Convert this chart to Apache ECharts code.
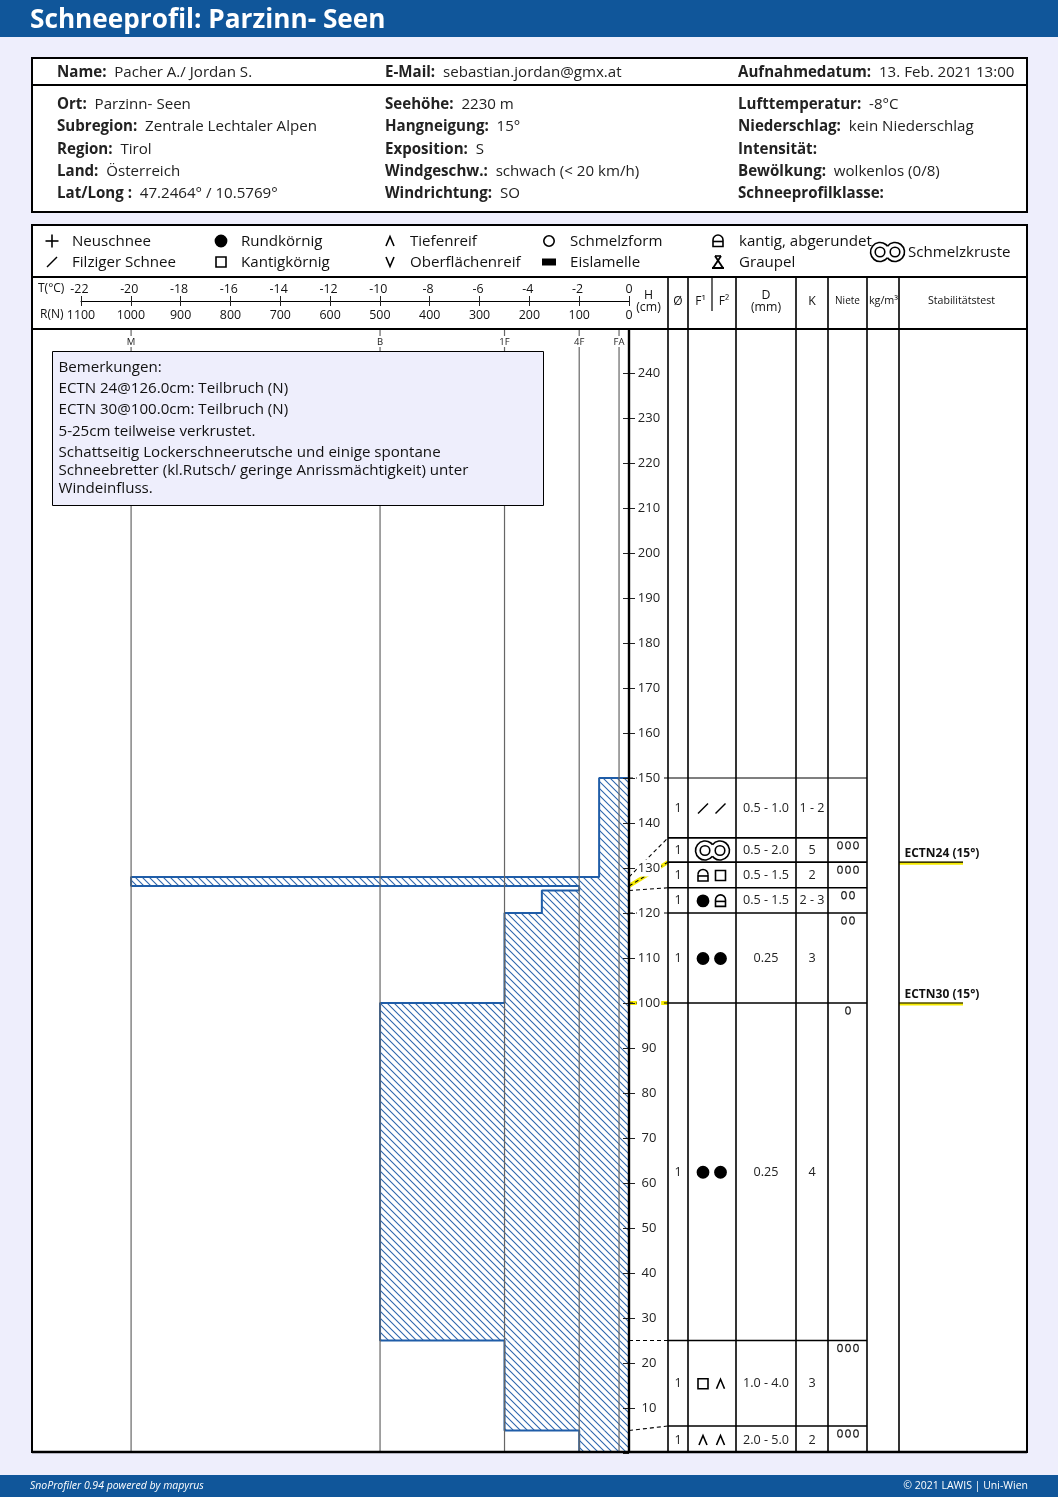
<!DOCTYPE html>
<html>
<head>
<meta charset="utf-8">
<title>Schneeprofil</title>
<script src="https://cdn.jsdelivr.net/npm/echarts@6/dist/echarts.min.js"></script>
<style>
  html, body { margin: 0; padding: 0; background: #eeeefc; }
  #chart { width: 1058px; height: 1497px; }
</style>
</head>
<body>
<div id="chart"></div>
<script>
// snow layers, top to bottom
const layerTop = [150, 128, 126, 125, 120, 100, 25, 5];
const layerBottom = [128, 126, 125, 120, 100, 25, 5, 0];
const layerResistance = [60, 1000, 100, 175, 250, 500, 250, 100];
// table rows are stretched where layers are thin, so rows get their own heights on the cm scale
const rowTop = [150, 136.7, 131.3, 125.6, 120, 100, 25, 6];
const rowBottom = [136.7, 131.3, 125.6, 120, 100, 25, 6, 0];
const rowMoisture = ['1', '1', '1', '1', '1', '1', '1', '1'];
const rowGrain1 = ['slash', 'crust', 'rounded', 'round', 'round', 'round', 'square', 'caret'];
const rowGrain2 = ['slash', '', 'square', 'rounded', 'round', 'round', 'caret', 'caret'];
const rowSize = ['0.5 - 1.0', '0.5 - 2.0', '0.5 - 1.5', '0.5 - 1.5', '0.25', '0.25', '1.0 - 4.0', '2.0 - 5.0'];
const rowHardness = ['1 - 2', '5', '2', '2 - 3', '3', '4', '3', '2'];
const rowRivets = [0, 3, 3, 2, 2, 1, 3, 3];
// hand hardness reference lines
const hardnessValues = [1000, 500, 250, 100, 20];
const hardnessCodes = ['M', 'B', '1F', '4F', 'FA'];
// stability tests
const testRows = [2, 5];
const testLabels = ['ECTN24 (15°)', 'ECTN30 (15°)'];
// texts
const infoHead = [['Name:', 'Pacher A./ Jordan S.'], ['E-Mail:', 'sebastian.jordan@gmx.at'], ['Aufnahmedatum:', '13. Feb. 2021 13:00']];
const infoCol1 = [['Ort:', 'Parzinn- Seen'], ['Subregion:', 'Zentrale Lechtaler Alpen'], ['Region:', 'Tirol'], ['Land:', 'Österreich'], ['Lat/Long :', '47.2464° / 10.5769°']];
const infoCol2 = [['Seehöhe:', '2230 m'], ['Hangneigung:', '15°'], ['Exposition:', 'S'], ['Windgeschw.:', 'schwach (< 20 km/h)'], ['Windrichtung:', 'SO']];
const infoCol3 = [['Lufttemperatur:', '-8°C'], ['Niederschlag:', 'kein Niederschlag'], ['Intensität:', ''], ['Bewölkung:', 'wolkenlos (0/8)'], ['Schneeprofilklasse:', '']];
const remarks = ['Bemerkungen:', 'ECTN 24@126.0cm: Teilbruch (N)', 'ECTN 30@100.0cm: Teilbruch (N)', '5-25cm teilweise verkrustet.', 'Schattseitig Lockerschneerutsche und einige spontane', 'Schneebretter (kl.Rutsch/ geringe Anrissmächtigkeit) unter', 'Windeinfluss.'];
const remarkY = [367, 388, 409, 431, 452, 470, 488];

const FONT = '"Open Sans", "Noto Sans", sans-serif';
const BLUE = '#10569a';
const BG = '#eeeefc';
const HATCH = '#2e66ad';

function hatchTile() {
  const c = document.createElement('canvas');
  c.width = 7; c.height = 7;
  const g = c.getContext('2d');
  g.strokeStyle = HATCH;
  g.lineWidth = 1.1;
  g.beginPath();
  g.moveTo(-1, -1); g.lineTo(8, 8);
  g.moveTo(-8, -1); g.lineTo(1, 8);
  g.moveTo(6, -1); g.lineTo(15, 8);
  g.stroke();
  return c;
}
const hatchFill = { image: hatchTile(), repeat: 'repeat' };

function txt(x, y, text, size, o) {
  o = o || {};
  return {
    type: 'text', z: o.z || 40, silent: true,
    style: {
      x: x, y: y + 0.8, text: text, fill: o.fill || '#111',
      font: (o.style || 'normal') + ' ' + (o.weight || 'normal') + ' ' + size + 'px ' + FONT,
      textAlign: o.align || 'left', textVerticalAlign: 'middle'
    }
  };
}
function seg(x1, y1, x2, y2, w, o) {
  o = o || {};
  return {
    type: 'line', z: o.z || 20, silent: true,
    shape: { x1: x1, y1: y1, x2: x2, y2: y2 },
    style: { stroke: o.color || '#000', lineWidth: w, lineDash: o.dash || null }
  };
}
function box(x, y, w, h, o) {
  o = o || {};
  return {
    type: 'rect', z: o.z === undefined ? -1 : o.z, silent: true,
    shape: { x: x, y: y, width: w, height: h },
    style: { fill: o.fill || '#fff', stroke: o.stroke || null, lineWidth: o.lw || 0 }
  };
}

// one snow grain symbol around a centre point
function grain(name, cx, cy, z) {
  const st = { stroke: '#000', lineWidth: 1.6, fill: null };
  const base = { z: z, silent: true };
  const L = (x1, y1, x2, y2, lw) => Object.assign({ type: 'line', shape: { x1: cx + x1, y1: cy + y1, x2: cx + x2, y2: cy + y2 }, style: Object.assign({}, st, lw ? { lineWidth: lw } : {}) }, base);
  const P = pts => Object.assign({ type: 'polyline', shape: { points: pts.map(p => [cx + p[0], cy + p[1]]) }, style: st }, base);
  const A = (x, r, a, b) => Object.assign({ type: 'arc', shape: { cx: cx + x, cy: cy, r: r, startAngle: a, endAngle: b, clockwise: true }, style: st }, base);
  const C = (x, r, fill) => Object.assign({ type: 'circle', shape: { cx: cx + x, cy: cy, r: r }, style: { stroke: '#000', lineWidth: 1.6, fill: fill || null } }, base);
  switch (name) {
    case 'plus': return [L(-6.5, 0, 6.5, 0), L(0, -6.5, 0, 6.5)];
    case 'slash': return [L(-5, 5, 5, -5, 1.4)];
    case 'round': return [C(0, 5.6, '#000')];
    case 'square': return [Object.assign({ type: 'rect', shape: { x: cx - 5, y: cy - 5, width: 10, height: 10 }, style: st }, base)];
    case 'caret': return [P([[-4, 5], [0, -4.5], [4, 5]])];
    case 'vee': return [P([[-4, -5], [0, 4.5], [4, -5]])];
    case 'melt': return [C(0, 5.2)];
    case 'ice': return [Object.assign({ type: 'rect', shape: { x: cx - 7, y: cy - 3.5, width: 14, height: 7 }, style: { fill: '#000' } }, base)];
    case 'rounded': return [
      Object.assign({ type: 'arc', shape: { cx: cx, cy: cy - 1, r: 5, startAngle: Math.PI, endAngle: Math.PI * 2, clockwise: true }, style: st }, base),
      P([[-5, -1], [-5, 5.5], [5, 5.5], [5, -1]]), L(-5, 0.5, 5, 0.5)
    ];
    case 'graupel': return [L(-3, -6, 3, -6), L(-6, 6, 6, 6, 2), L(-3, -6, 5, 6, 1.8), L(3, -6, -5, 6, 1.8)];
    case 'crust': {
      const t = Math.acos(7.5 / 9.5);
      return [
        A(-7.5, 9.5, t, Math.PI * 2 - t), A(7.5, 9.5, Math.PI + t, Math.PI * 3 - t),
        C(-7.5, 4.8), C(7.5, 4.8)
      ];
    }
  }
  return [];
}

// page furniture
const els = [];
els.push(box(0, 0, 1058, 37, { fill: BLUE, z: 1 }));
els.push(box(0, 1475, 1058, 22, { fill: BLUE, z: 1 }));
els.push(txt(30, 19.5, 'Schneeprofil: Parzinn- Seen', 26.2, { fill: '#fff', weight: 'bold' }));
els.push(txt(30, 1485.5, 'SnoProfiler 0.94 powered by mapyrus', 10.5, { fill: '#fff', style: 'italic' }));
els.push(txt(1028, 1485.5, '© 2021 LAWIS | Uni-Wien', 10.5, { fill: '#fff', align: 'right' }));

// panels
els.push(box(32, 58, 995, 154, { stroke: '#000', lw: 2 }));
els.push(box(32, 225, 995, 1227, { stroke: '#000', lw: 2 }));
els.push(seg(32, 85, 1027, 85, 2));
els.push(seg(32, 58, 1027, 58, 2), seg(32, 212, 1027, 212, 2), seg(32, 58, 32, 212, 2), seg(1027, 58, 1027, 212, 2));
els.push(seg(32, 225, 1027, 225, 2), seg(32, 1452, 1027, 1452, 2.4), seg(32, 225, 32, 1452, 2), seg(1027, 225, 1027, 1452, 2));
els.push(seg(32, 277, 1027, 277, 2), seg(32, 329, 1027, 329, 2));

function infoText(x, y, pair) {
  const t = txt(x, y, '{b|' + pair[0] + '}  ' + pair[1], 15.1);
  t.style.rich = { b: { font: 'bold 15.1px ' + FONT, fill: '#222' } };
  t.style.fill = '#222';
  return t;
}
const infoX = [57, 385, 738];
infoHead.forEach((p, i) => els.push(infoText(infoX[i], 71.5, p)));
const infoRowY = [103.5, 126, 148.5, 170.5, 193];
[infoCol1, infoCol2, infoCol3].forEach((col, c) => col.forEach((p, i) => els.push(infoText(infoX[c], infoRowY[i], p))));

// legend
const legendItems = [
  ['plus', 'Neuschnee', 52, 72, 241], ['slash', 'Filziger Schnee', 52, 72, 262],
  ['round', 'Rundkörnig', 221, 241, 241], ['square', 'Kantigkörnig', 221, 241, 262],
  ['caret', 'Tiefenreif', 390, 410, 241], ['vee', 'Oberflächenreif', 390, 410, 262],
  ['melt', 'Schmelzform', 549, 570, 241], ['ice', 'Eislamelle', 549, 570, 262],
  ['rounded', 'kantig, abgerundet', 718, 739, 241], ['graupel', 'Graupel', 718, 739, 262],
  ['crust', 'Schmelzkruste', 887.5, 908, 252]
];
legendItems.forEach(it => {
  grain(it[0], it[2], it[4], 40).forEach(e => els.push(e));
  els.push(txt(it[3], it[4], it[1], 15.1));
});

// column heads
const colLines = [668, 688, 736, 796, 828, 867, 899];
colLines.forEach(x => els.push(seg(x, 277, x, 1452, 1.6)));
els.push(seg(712, 277, 712, 311, 1.2));
els.push(seg(629, 329, 629, 1452, 2.4, { z: 21 }));
els.push(txt(38, 287.5, 'T(°C)', 12), txt(40, 313.5, 'R(N)', 12));
els.push(txt(648.5, 294.5, 'H', 12.3, { align: 'center' }), txt(648.5, 306.5, '(cm)', 12.3, { align: 'center' }));
els.push(txt(678, 300.5, 'Ø', 12, { align: 'center' }));
els.push(txt(700.5, 300.5, 'F¹', 12, { align: 'center' }), txt(724, 300.5, 'F²', 12, { align: 'center' }));
els.push(txt(766, 294.5, 'D', 12.3, { align: 'center' }), txt(766, 306.5, '(mm)', 12.3, { align: 'center' }));
els.push(txt(812, 300.5, 'K', 12.3, { align: 'center' }));
els.push(txt(847.5, 300.5, 'Niete', 10, { align: 'center' }));
els.push(txt(883.5, 300.5, 'kg/m³', 10.8, { align: 'center' }));
els.push(txt(961.5, 300.5, 'Stabilitätstest', 10.6, { align: 'center' }));

// remarks box
els.push(box(52.5, 351.5, 491, 154, { fill: BG, stroke: '#000', lw: 1, z: 30 }));
remarks.forEach((line, i) => els.push(txt(58.5, remarkY[i], line, 15.1)));

// staircase outline of the hardness profile
const outline = [];
layerTop.forEach((t, i) => {
  outline.push([layerResistance[i], t]);
  outline.push([layerResistance[i], layerBottom[i]]);
});
outline.unshift([0, layerTop[0]]);

const rowIdx = rowTop.map((_, i) => i);

function renderLayer(params, api) {
  const i = api.value(0);
  const a = api.coord([layerResistance[i], layerTop[i]]);
  const b = api.coord([0, layerBottom[i]]);
  return {
    type: 'rect', silent: true,
    shape: { x: a[0], y: a[1], width: b[0] - a[0], height: b[1] - a[1] },
    style: { fill: hatchFill }
  };
}

function renderHardnessLine(params, api) {
  const i = api.value(0);
  const top = api.coord([hardnessValues[i], 250]);
  const bot = api.coord([hardnessValues[i], 0]);
  const x = top[0];
  return {
    type: 'group', children: [
      { type: 'line', shape: { x1: x, y1: top[1], x2: x, y2: top[1] + 8 }, style: { stroke: '#666', lineWidth: 1.2 } },
      { type: 'line', shape: { x1: x, y1: top[1] + 19, x2: x, y2: bot[1] }, style: { stroke: '#666', lineWidth: 1.2 } },
      { type: 'text', style: { x: x, y: top[1] + 14, text: hardnessCodes[i], fill: '#222', font: '9.5px ' + FONT, textAlign: 'center', textVerticalAlign: 'middle' } }
    ]
  };
}

// dashed links from the true layer height to its table row
function renderLink(params, api) {
  const i = api.value(0);
  const a = api.coord([0, layerTop[i]]);
  const rowPx = api.coord([0, rowTop[i]])[1];
  const isTest = testRows.indexOf(i) >= 0;
  const shape = { x1: a[0], y1: a[1], x2: colLines[0], y2: rowPx };
  const children = [];
  if (isTest) children.push({ type: 'line', shape: shape, style: { stroke: '#f5ea00', lineWidth: 4 } });
  children.push({ type: 'line', shape: shape, style: { stroke: '#000', lineWidth: 1.1, lineDash: [4, 3] } });
  return { type: 'group', children: children };
}

function renderRow(params, api) {
  const i = api.value(0);
  const top = api.coord([668, rowTop[i]]);
  const bot = api.coord([867, rowBottom[i]]);
  const cy = (top[1] + bot[1]) / 2 + 0.5;
  const children = [
    { type: 'line', shape: { x1: top[0], y1: top[1], x2: bot[0], y2: top[1] }, style: { stroke: '#000', lineWidth: i === 0 ? 1.2 : 1.6 } }
  ];
  const cell = (x, s) => ({ type: 'text', style: { x: x, y: cy, text: s, fill: '#222', font: '12.6px ' + FONT, textAlign: 'center', textVerticalAlign: 'middle' } });
  children.push(cell(678, rowMoisture[i]), cell(766, rowSize[i]), cell(812, rowHardness[i]));
  if (rowGrain1[i] === 'crust') {
    grain('crust', 712.5, cy, 3).forEach(e => children.push(e));
  } else {
    grain(rowGrain1[i], 703, cy, 3).forEach(e => children.push(e));
    grain(rowGrain2[i], 720.5, cy, 3).forEach(e => children.push(e));
  }
  const n = rowRivets[i];
  for (let k = 0; k < n; k++) {
    children.push({
      type: 'ellipse', silent: true,
      shape: { cx: 848 + (k - (n - 1) / 2) * 8, cy: top[1] + 7.5, rx: 2.3, ry: 3.6 },
      style: { stroke: '#222', lineWidth: 1.2, fill: null }
    });
  }
  return { type: 'group', children: children };
}

function renderTest(params, api) {
  const i = api.value(0);
  const p = api.coord([899, rowTop[testRows[i]]]);
  const end = api.coord([963, 0])[0];
  return {
    type: 'group', children: [
      { type: 'line', shape: { x1: p[0], y1: p[1] + 1, x2: end, y2: p[1] + 1 }, style: { stroke: '#f5ea00', lineWidth: 3 } },
      { type: 'line', shape: { x1: p[0], y1: p[1], x2: end, y2: p[1] }, style: { stroke: '#000', lineWidth: 1.2 } },
      { type: 'text', style: { x: 904.5, y: p[1] - 8.5, text: testLabels[i], fill: '#111', font: 'bold 12px ' + FONT, textVerticalAlign: 'middle' } }
    ]
  };
}

const chart = echarts.init(document.getElementById('chart'), null, { renderer: 'canvas' });
chart.setOption({
  animation: false,
  backgroundColor: BG,
  textStyle: { fontFamily: FONT },
  graphic: { elements: els },
  grid: [
    { left: 32, top: 328, width: 597, height: 1125 },
    { left: 81, top: 301, width: 548, height: 0 },
    { left: 668, top: 328, width: 358, height: 1125 }
  ],
  xAxis: [
    { gridIndex: 0, type: 'value', min: 0, max: 1199, inverse: true, show: false },
    {
      gridIndex: 1, type: 'value', position: 'top', min: -22, max: 0, interval: 2,
      splitLine: { show: false }, axisLine: { show: true, onZero: false, lineStyle: { color: '#000', width: 1 } },
      axisTick: { show: true, length: 5, lineStyle: { color: '#222' } },
      axisLabel: { fontSize: 12.4, color: '#111', margin: 6, formatter: v => (v < 0 ? v + '\u00a0' : '' + v) }, z: 5
    },
    {
      gridIndex: 1, type: 'value', position: 'bottom', min: 0, max: 1100, interval: 100, inverse: true,
      splitLine: { show: false }, axisLine: { show: false, onZero: false },
      axisTick: { show: true, length: 5, lineStyle: { color: '#222' } },
      axisLabel: { fontSize: 12.4, color: '#111', margin: 8, formatter: v => '' + v }, z: 5
    },
    { gridIndex: 2, type: 'value', min: 668, max: 1026, show: false }
  ],
  yAxis: [
    {
      gridIndex: 0, type: 'value', position: 'right', min: 0, max: 250, interval: 10,
      splitLine: { show: false }, axisLine: { show: false },
      axisTick: { show: true, length: 6, lineStyle: { color: '#222' } },
      axisLabel: {
        fontSize: 13, color: '#222', margin: 20, align: 'center', showMinLabel: false, showMaxLabel: false,
        backgroundColor: '#fff', padding: [4, 1, 0, 1]
      },
      z: 5
    },
    {
      gridIndex: 0, type: 'value', position: 'right', min: 0, max: 250, interval: 10,
      splitLine: { show: false }, axisLine: { show: false },
      axisTick: { show: true, inside: true, length: 6, lineStyle: { color: '#222' } },
      axisLabel: { show: false }, z: 5
    },
    { gridIndex: 1, type: 'value', show: false, min: 0, max: 1 },
    { gridIndex: 2, type: 'value', min: 0, max: 250, show: false }
  ],
  series: [
    { type: 'custom', name: 'layers', xAxisIndex: 0, yAxisIndex: 0, z: 2, data: layerTop.map((_, i) => [i]), renderItem: renderLayer, encode: { x: -1, y: -1 } },
    { type: 'line', name: 'outline', xAxisIndex: 0, yAxisIndex: 0, z: 3, data: outline, symbol: 'none', lineStyle: { color: '#1f5da8', width: 2 }, silent: true, clip: false },
    { type: 'custom', name: 'hardness', xAxisIndex: 0, yAxisIndex: 0, z: 4, data: hardnessValues.map((_, i) => [i]), renderItem: renderHardnessLine, encode: { x: -1, y: -1 } },
    { type: 'custom', name: 'links', xAxisIndex: 0, yAxisIndex: 0, z: 4, data: layerTop.map((_, i) => [i]), renderItem: renderLink, encode: { x: -1, y: -1 } },
    { type: 'custom', name: 'rows', xAxisIndex: 3, yAxisIndex: 3, z: 6, data: rowIdx.map(i => [i]), renderItem: renderRow, encode: { x: -1, y: -1 } },
    { type: 'custom', name: 'tests', xAxisIndex: 3, yAxisIndex: 3, z: 6, data: testRows.map((_, i) => [i]), renderItem: renderTest, encode: { x: -1, y: -1 } }
  ]
});
</script>
</body>
</html>
